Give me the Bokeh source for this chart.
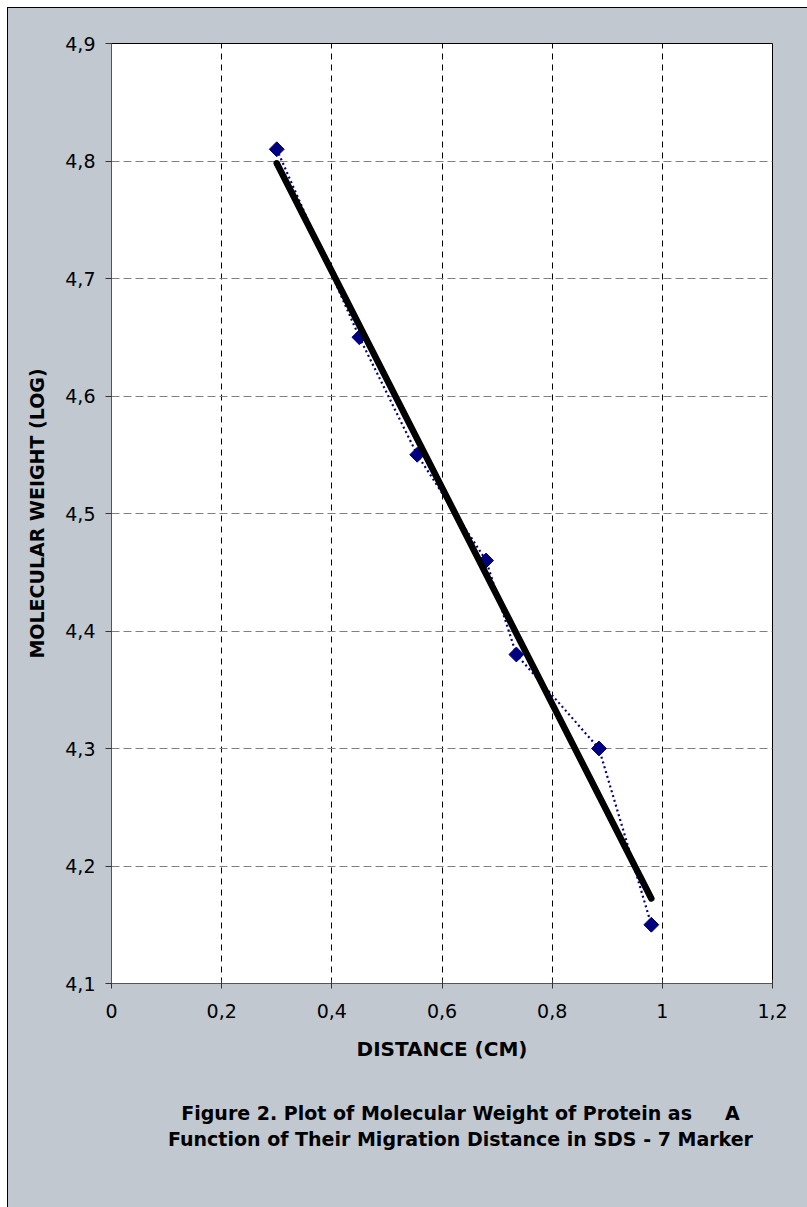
import numpy as np
from bokeh.plotting import figure
from bokeh.layouts import column
from bokeh.models import FixedTicker, Range1d, ColumnDataSource
from bokeh.core.properties import value
from bokeh.embed import file_html
from bokeh.resources import INLINE

# data
distance = [0.30, 0.45, 0.555, 0.68, 0.735, 0.885, 0.98]
log_mw = [4.81, 4.65, 4.55, 4.46, 4.38, 4.30, 4.15]

x_ticks = [0, 0.2, 0.4, 0.6, 0.8, 1, 1.2]
x_tick_labels = ["0", "0,2", "0,4", "0,6", "0,8", "1", "1,2"]
y_ticks = [4.1, 4.2, 4.3, 4.4, 4.5, 4.6, 4.7, 4.8, 4.9]
y_tick_labels = ["4,1", "4,2", "4,3", "4,4", "4,5", "4,6", "4,7", "4,8", "4,9"]

caption_lines = [
    "Figure 2. Plot of Molecular Weight of Protein as \u00a0\u00a0\u00a0\u00a0A",
    "Function of Their Migration Distance in SDS - 7 Marker",
]

# linear trend line (least squares) over the data extent
slope, intercept = np.polyfit(distance, log_mw, 1)
trend_x = [min(distance), max(distance)]
trend_y = [slope * v + intercept for v in trend_x]

BG = "#c1c8d0"
FONT = "DejaVu Sans"
W = 799
H_MAIN = 1070
H_CAP = 1199 - H_MAIN
LEFT, RIGHT = 103, 35

p = figure(
    width=W, height=H_MAIN,
    output_backend="svg", toolbar_location=None,
    x_range=Range1d(0, 1.2), y_range=Range1d(4.1, 4.9),
    min_border_left=LEFT, min_border_right=RIGHT,
    min_border_top=35, min_border_bottom=H_MAIN - 975,
    background_fill_color="white", border_fill_color=BG,
)
p.outline_line_color = "black"
p.outline_line_width = 1

# axes
p.xaxis.ticker = FixedTicker(ticks=x_ticks)
p.yaxis.ticker = FixedTicker(ticks=y_ticks)
p.xaxis.major_label_overrides = {t: s for t, s in zip(x_ticks, x_tick_labels)}
p.yaxis.major_label_overrides = {t: s for t, s in zip(y_ticks, y_tick_labels)}
for ax in (p.xaxis[0], p.yaxis[0]):
    ax.axis_line_color = "#555555"
    ax.major_tick_line_color = "#333333"
    ax.minor_tick_line_color = None
    ax.major_label_text_font = FONT
    ax.major_label_text_font_size = "19px"
    ax.major_label_text_color = "black"
    ax.axis_label_text_font = FONT
    ax.axis_label_text_font_style = "bold"
    ax.axis_label_text_color = "black"
p.xaxis.major_tick_in = 4
p.xaxis.major_tick_out = 5
p.xaxis.major_label_standoff = 15
p.xaxis.axis_label = "DISTANCE (CM)"
p.xaxis.axis_label_text_font_size = "20px"
p.xaxis.axis_label_standoff = 16
p.yaxis.major_tick_in = 0
p.yaxis.major_tick_out = 6
p.yaxis.major_label_standoff = 10
p.yaxis.axis_label = "MOLECULAR WEIGHT (LOG)"
p.yaxis.axis_label_text_font_size = "19px"
p.yaxis.axis_label_standoff = 14

# grids
p.xgrid.grid_line_color = "black"
p.xgrid.grid_line_dash = "6 5"
p.xgrid.grid_line_width = 1
p.ygrid.grid_line_color = "#808080"
p.ygrid.grid_line_dash = "8 4"
p.ygrid.grid_line_width = 1.2

# series: dotted line with diamond markers
p.line(distance, log_mw, line_color="#000080", line_width=2.2, line_dash="2 3")
p.scatter(distance, log_mw, marker="square", size=10.5, angle=np.pi / 4,
          fill_color="#000080", line_color="#000080")

# trend line
p.line(trend_x, trend_y, line_color="black", line_width=6.5, line_cap="round")

# caption panel: frame aligned with the main frame; x in page pixels, y from its top
cap = figure(
    width=W, height=H_CAP,
    output_backend="svg", toolbar_location=None,
    x_range=Range1d(8 + LEFT, 8 + W - RIGHT), y_range=Range1d(H_CAP, 0),
    x_axis_type=None, y_axis_type=None,
    min_border_left=LEFT, min_border_right=RIGHT,
    min_border_top=0, min_border_bottom=0,
    background_fill_color=None, border_fill_color=BG,
)
cap.outline_line_color = None
cap_src = ColumnDataSource(dict(x=[460, 460], y=[34, 60], text=caption_lines))
cap.text(x="x", y="y", text="text", source=cap_src,
         text_align="center", text_baseline="middle",
         text_font=value(FONT), text_font_style="bold",
         text_font_size="19px", text_color="black")

layout = column(p, cap, spacing=0)
layout.styles = {"margin-left": "7px", "margin-top": "7px",
                 "background-color": BG,
                 "border-left": "1px solid black", "border-top": "1px solid black"}

open("out.html", "w").write(file_html(layout, INLINE))
